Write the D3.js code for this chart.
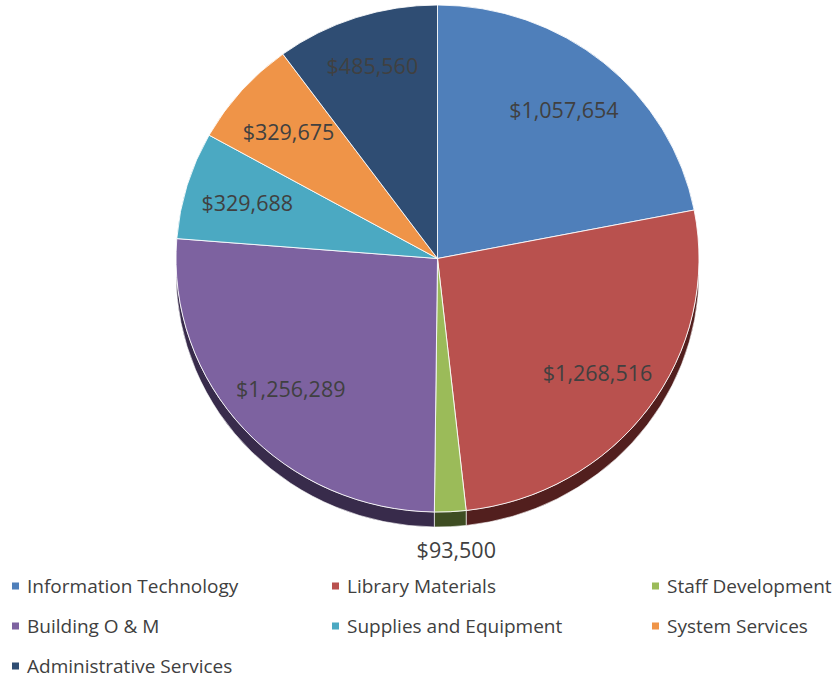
<!DOCTYPE html>
<html>
<head>
<meta charset="utf-8">
<script src="https://cdn.jsdelivr.net/npm/d3@7"></script>
<style>
  body { margin: 0; background: #fff; }
  text { font-family: "Open Sans", sans-serif; fill: #404040; }
</style>
</head>
<body>
<svg id="chart" width="836" height="681"></svg>
<script>
const categories = ["Information Technology", "Library Materials", "Staff Development",
    "Building O & M", "Supplies and Equipment", "System Services", "Administrative Services"];
const amounts = [1057654, 1268516, 93500, 1256289, 329688, 329675, 485560];
const topColors = ["#4f7fba", "#b9514e", "#9bbb59", "#7d62a0", "#4ba9c2", "#ef9448", "#2f4d73"];
const sideColors = ["#24395a", "#521f1e", "#3e4d22", "#382b4b", "#205462", "#6e4016", "#1a2a40"];

const svg = d3.select("#chart");
const cx = 437.5, cy = 258.5, rx = 261.5, ry = 253.5, depth = 15;
const k = ry / rx;

const data = categories.map((c, i) => ({ name: c, value: amounts[i], i: i }));
const pie = d3.pie().value(d => d.value).sort(null);
const arcs = pie(data);

const fmt = d3.format("$,");

// pie group, squashed vertically
const g = svg.append("g")
    .attr("transform", "translate(" + cx + "," + cy + ") scale(1," + k + ")");

// side wall (front half only)
const dLocal = depth / k;
arcs.forEach(a => {
    const a0 = Math.max(a.startAngle, Math.PI / 2);
    const a1 = Math.min(a.endAngle, Math.PI * 3 / 2);
    if (a1 <= a0) return;
    const p = d3.path();
    const s0 = a0 - Math.PI / 2, s1 = a1 - Math.PI / 2;
    p.moveTo(rx * Math.cos(s0), rx * Math.sin(s0));
    p.arc(0, 0, rx, s0, s1);
    p.lineTo(rx * Math.cos(s1), rx * Math.sin(s1) + dLocal);
    p.arc(0, dLocal, rx, s1, s0, true);
    p.closePath();
    g.append("path")
        .attr("d", p.toString())
        .attr("fill", sideColors[a.data.i])
        .attr("stroke", "#ffffff")
        .attr("stroke-opacity", 0.6)
        .attr("stroke-width", 1)
        .attr("vector-effect", "non-scaling-stroke");
});

// top faces
const arc = d3.arc().innerRadius(0).outerRadius(rx);
g.selectAll("path.slice").data(arcs)
    .join("path")
    .attr("class", "slice")
    .attr("d", arc)
    .attr("fill", d => topColors[d.data.i])
    .attr("stroke", "#ffffff")
    .attr("stroke-opacity", 0.85)
    .attr("stroke-width", 1)
    .attr("vector-effect", "non-scaling-stroke");

// labels (best-fit style: inside, tiny slice goes outside)
const labels = svg.append("g");
arcs.forEach(a => {
    const mid = (a.startAngle + a.endAngle) / 2;
    const frac = (a.endAngle - a.startAngle) / (2 * Math.PI);
    let x, y;
    if (frac < 0.03) {
        x = cx + rx * Math.sin(mid) + 6;
        y = cy + ry + depth + 22;
    } else {
        const r = frac > 0.09 && frac < 0.15 ? 0.8 : 0.76;
        x = cx + rx * r * Math.sin(mid);
        y = cy - ry * r * Math.cos(mid);
    }
    labels.append("text")
        .attr("x", x)
        .attr("y", y)
        .attr("text-anchor", "middle")
        .attr("dominant-baseline", "central")
        .attr("font-size", 21.5)
        .text(fmt(a.data.value));
});

// legend
const legend = svg.append("g");
const colX = [12, 332, 652];
const rowY = [586, 626, 666];
data.forEach((d, i) => {
    const x = colX[i % 3], y = rowY[Math.floor(i / 3)];
    legend.append("rect")
        .attr("x", x).attr("y", y - 3.5)
        .attr("width", 7).attr("height", 7)
        .attr("fill", topColors[i]);
    legend.append("text")
        .attr("x", x + 15).attr("y", y)
        .attr("dominant-baseline", "central")
        .attr("font-size", 19)
        .text(d.name);
});
</script>
</body>
</html>
